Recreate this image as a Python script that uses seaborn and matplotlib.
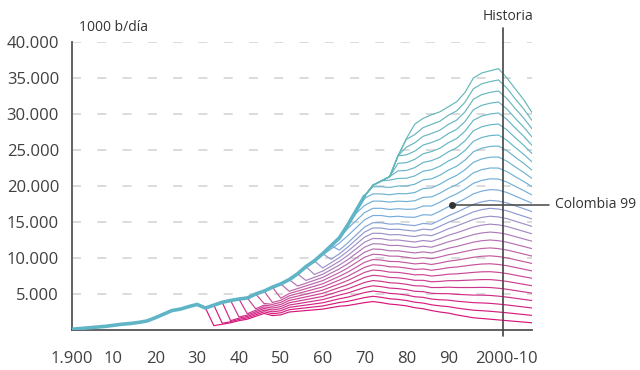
import numpy as np
import pandas as pd
import seaborn as sns
import matplotlib.pyplot as plt
from matplotlib.colors import LinearSegmentedColormap
import matplotlib.transforms as mtransforms

nan = np.nan

# x grid: every 2 years, 1900-2010
years = np.arange(1900, 2011, 2)

# top envelope (1000 b/dia)
world_total = [
    100, 200, 300, 400, 500, 650, 800, 900, 1050, 1250,
    1700, 2200, 2700, 2900, 3250, 3550, 3050, 3450, 3850, 4100,
    4300, 4450, 5000, 5400, 5950, 6400, 7000, 7800, 8800, 9600,
    10600, 11700, 12800, 14600, 16600, 18600, 20100, 20700, 21300, 24200,
    26600, 28600, 29400, 29900, 30300, 31000, 31700, 33000, 35000, 35700,
    36000, 36300, 35000, 33500, 32000, 30200,
]

# lowest (magenta) line, drawn from 1934
base_line = [nan] * 17 + [
    600, 800, 1000, 1300, 1500, 1900, 2300, 2000, 2100, 2500,
    2600, 2700, 2800, 2900, 3100, 3300, 3400, 3600, 3800, 3950,
    3800, 3600, 3500, 3350, 3100, 2950, 2700, 2500, 2350, 2100,
    1900, 1700, 1600, 1500, 1400, 1300, 1200, 1100, 1000,
]

# spacing between the lower lines
layer_low = [nan] * 17 + [
    130, 140, 150, 170, 190, 210, 230, 260, 290, 320,
    350, 380, 410, 440, 480, 520, 580, 640, 700, 730,
    740, 740, 750, 750, 760, 790, 800, 850, 900, 950,
    1000, 1050, 1080, 1100, 1100, 1090, 1070, 1050, 1030,
]

# spacing between the upper lines
layer_high = [nan] * 17 + [
    1000, 1000, 1000, 1000, 1000, 1000, 1000, 1000, 1000, 1000,
    1000, 1000, 950, 950, 950, 980, 1000, 1000, 1000, 1000,
    1000, 1020, 1050, 1080, 1150, 1210, 1260, 1250, 1270, 1280,
    1340, 1460, 1490, 1500, 1530, 1450, 1350, 1260, 1150,
]

# year each lower line leaves the envelope
peel_low = [1932, 1934, 1936, 1938, 1940, 1942, 1944, 1946,
            1948, 1950, 1952, 1954, 1956, 1958, 1960, 1962]
n_high = 12

x_labels = ['1.900', '10', '20', '30', '40', '50', '60', '70', '80', '90', '2000-10']
x_ticks = [1900, 1910, 1920, 1930, 1940, 1950, 1960, 1970, 1980, 1990, 2004]
y_ticks = [5000, 10000, 15000, 20000, 25000, 30000, 35000, 40000]
y_labels = ['5.000', '10.000', '15.000', '20.000', '25.000', '30.000', '35.000', '40.000']

E = np.array(world_total, float)
base = np.array(base_line, float)
g_low = np.array(layer_low, float)
g_high = np.array(layer_high, float)

# stack the layers
low_stack = np.cumsum(np.vstack([base] + [g_low] * (len(peel_low) - 1)), axis=0)
high_stack = np.cumsum(np.vstack([low_stack[-1]] + [g_high] * n_high), axis=0)[1:]

all_lines = []
for k, peel in enumerate(peel_low):
    s = low_stack[k]
    all_lines.append(np.where(np.isnan(s) | (years <= peel), E, np.minimum(s, E)))
for m in range(n_high - 1):
    s = high_stack[m]
    all_lines.append(np.where(np.isnan(s), E, np.minimum(s, E)))
all_lines.append(E)

n_lines = len(all_lines)
cmap = LinearSegmentedColormap.from_list(
    'oil', [(0, '#d8157a'), (0.3, '#c45a9f'), (0.47, '#a08fc8'),
            (0.6, '#74aedd'), (0.78, '#66b6c9'), (1, '#66b7b8')])
names = [f'L{k:02d}' for k in range(n_lines)]
palette = {n: cmap(k / (n_lines - 1)) for k, n in enumerate(names)}

df = pd.concat([pd.DataFrame({'year': years, 'value': v, 'line': n})
                for n, v in zip(names, all_lines)], ignore_index=True)

sns.set_theme(style='white')
plt.rcParams['font.family'] = ['Open Sans', 'DejaVu Sans']

fig = plt.figure(figsize=(6.4, 3.7), dpi=100)
ax = fig.add_axes([71.5 / 640, 40 / 370, (532 - 71.5) / 640, 288 / 370])

sns.lineplot(data=df, x='year', y='value', hue='line', hue_order=names,
             palette=palette, linewidth=0.85, legend=False,
             estimator=None, sort=False, ax=ax)

# thick band along the envelope
band = years <= 1970
sns.lineplot(x=years[band], y=E[band], color='#5fb4c6', linewidth=2.6, ax=ax, zorder=3)

ax.set_xlim(1900, 2010)
ax.set_ylim(0, 40000)
ax.set_xlabel('')
ax.set_ylabel('')
ax.set_xticks(x_ticks)
ax.set_xticklabels(x_labels)
ax.set_yticks(y_ticks)
ax.set_yticklabels(y_labels)
ax.tick_params(axis='both', length=0, labelsize=12, colors='#404040')
ax.tick_params(axis='x', pad=15)
ax.tick_params(axis='y', pad=9)
ax.set_xticks([1900], minor=True)
ax.set_yticks([0], minor=True)
ax.tick_params(which='minor', length=4, width=1.3, color='#555555', direction='out')

for side in ['top', 'right']:
    ax.spines[side].set_visible(False)
for side in ['left', 'bottom']:
    ax.spines[side].set_color('#555555')
    ax.spines[side].set_linewidth(1.3)

ax.yaxis.grid(True, linestyle=(0, (5, 9)), linewidth=1.3, color='#d8d8d8')
ax.xaxis.grid(False)
ax.set_axisbelow(True)

# history marker
ax.axvline(2003, ymin=-0.02, ymax=1.05, color='#444444', linewidth=1.2, clip_on=False, zorder=4)
trans = mtransforms.blended_transform_factory(ax.transData, ax.transAxes)
ax.text(2004.2, 1.088, 'Historia', transform=trans, ha='center', va='center',
        fontsize=10, color='#333333')
ax.text(1901.8, 1.049, '1000 b/día', transform=trans, ha='left', va='center',
        fontsize=10, color='#333333')

# Colombia label
col_year = 1991
col_y = np.interp(col_year, years, all_lines[len(peel_low)])
ax.plot([col_year, 2014], [col_y, col_y], color='#444444', linewidth=1.1,
        clip_on=False, zorder=5)
ax.plot([col_year], [col_y], marker='o', markersize=4, color='#333333', zorder=6)
ax.text(2015.6, col_y, 'Colombia 99', ha='left', va='center', fontsize=10,
        color='#333333', clip_on=False)

fig.savefig('out.png', dpi=100)
